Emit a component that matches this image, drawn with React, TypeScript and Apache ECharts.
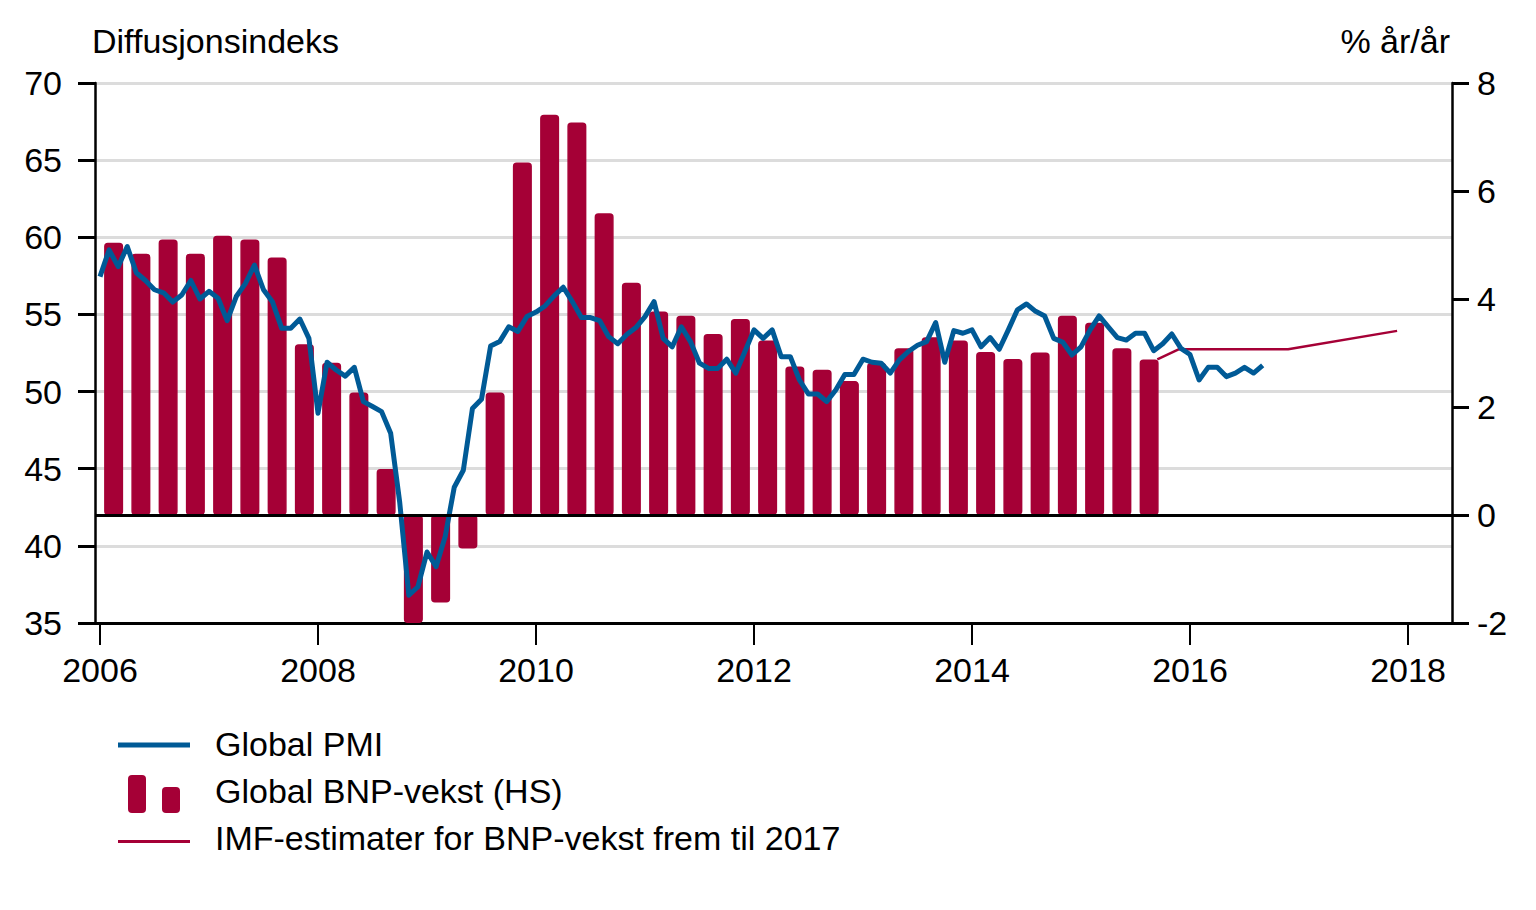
import React, { useEffect, useRef } from "react";
import * as echarts from "echarts";

// ---- Data ----
const pmiStartYear = 2006; // monthly, Jan 2006 onwards
const pmiValues = [
  57.45, 59.18, 58.1, 59.4, 57.7, 57.2, 56.6, 56.4, 55.8, 56.26, 57.2, 56.0,
  56.5, 56.05, 54.6, 56.16, 57.0, 58.2, 56.6, 55.8, 54.1, 54.1, 54.7, 53.45,
  48.6, 51.9, 51.4, 51.0, 51.57, 49.35, 49.03, 48.7, 47.3, 42.8, 36.8, 37.35,
  39.6, 38.65, 40.6, 43.8, 44.9, 48.9, 49.5, 52.95, 53.24, 54.2, 53.9, 54.86,
  55.15, 55.55, 56.2, 56.76, 55.83, 54.8, 54.8, 54.6, 53.56, 53.1, 53.7, 54.15,
  54.86, 55.83, 53.45, 52.9, 54.2, 53.24, 51.84, 51.5, 51.5, 52.1, 51.2, 52.6,
  54.0, 53.45, 54.0, 52.26, 52.26, 50.75, 49.84, 49.84, 49.35, 50.1, 51.1, 51.1,
  52.1, 51.9, 51.84, 51.2, 52.05, 52.6, 53.0, 53.24, 54.47, 51.9, 53.95, 53.78,
  54.0, 52.9, 53.5, 52.74, 54.0, 55.3, 55.68, 55.2, 54.9, 53.45, 53.2, 52.37,
  52.9, 54.0, 54.9, 54.2, 53.5, 53.34, 53.78, 53.78, 52.65, 53.1, 53.73, 52.8,
  52.4, 50.75, 51.57, 51.57, 50.97, 51.2, 51.57, 51.2, 51.7,
];

const gdpStartYear = 2006; // quarterly, Q1 2006 onwards
const gdpValues = [
  5.04, 4.84, 5.1, 4.84,
  5.17, 5.1, 4.77, 3.16,
  2.82, 2.27, 0.85, -2.0,
  -1.62, -0.62, 2.27, 6.53,
  7.41, 7.27, 5.59, 4.3,
  3.77, 3.69, 3.35, 3.63,
  3.23, 2.75, 2.69, 2.48,
  2.82, 3.09, 3.29, 3.23,
  3.02, 2.89, 3.01, 3.69,
  3.56, 3.09, 2.88,
];

const imfDates = [2015.7, 2015.9, 2016.9, 2017.9];
const imfValues = [2.88, 3.07, 3.07, 3.41];

const xTickYears = [2006, 2008, 2010, 2012, 2014, 2016, 2018];

const leftAxisName = "Diffusjonsindeks";
const rightAxisName = "% år/år";
const legendLabels = [
  "Global PMI",
  "Global BNP-vekst (HS)",
  "IMF-estimater for BNP-vekst frem til 2017",
];

// ---- Styles ----
const BLUE = "#005a96";
const RED = "#a50036";
const GRID = "#dcdcdc";

function hasFont(name: string): boolean {
  try {
    const ctx = document.createElement("canvas").getContext("2d");
    if (!ctx) return false;
    const s = "Diffusjonsindeks 2006 % år/år";
    ctx.font = "40px monospace";
    const a = ctx.measureText(s).width;
    ctx.font = `40px "${name}", monospace`;
    const b = ctx.measureText(s).width;
    return Math.abs(a - b) > 0.5;
  } catch (e) {
    return false;
  }
}

export default function App() {
  const ref = useRef<HTMLDivElement>(null);

  useEffect(() => {
    document.body.style.margin = "0";
    if (!ref.current) return;
    const narrow = hasFont("Liberation Sans Narrow");
    const FONT = narrow ? "'Liberation Sans Narrow', 'Arial Narrow', sans-serif" : "'Liberation Sans', Arial, sans-serif";
    const FS = narrow ? 41 : 34;

    const chart = echarts.init(ref.current, undefined, { renderer: "svg" });

    const pmiData = pmiValues.map((v, i) => [pmiStartYear + i / 12, v]);
    const gdpData = gdpValues.map((v, i) => [gdpStartYear + 0.125 + i * 0.25, v]);
    const imfData = imfDates.map((d, i) => [d, imfValues[i]]);

    const XMIN = 2006 - 5 / 109;
    const XMAX = 2018 + 44 / 109;

    const textStyle = { fontFamily: FONT, fontSize: FS, color: "#000" };

    chart.setOption({
      animation: false,
      grid: { left: 95, right: 84, top: 83, bottom: 287, containLabel: false },
      xAxis: {
        type: "value",
        min: XMIN,
        max: XMAX,
        axisLine: { show: true, onZero: false, lineStyle: { color: "#000", width: 3 } },
        axisTick: {
          show: true,
          length: 22,
          lineStyle: { color: "#000", width: 2 },
          customValues: xTickYears,
        },
        axisLabel: {
          ...textStyle,
          margin: 30,
          customValues: xTickYears,
          formatter: (v: number) => String(Math.round(v)),
        },
        splitLine: { show: false },
      },
      yAxis: [
        {
          type: "value",
          position: "left",
          min: 35,
          max: 70,
          interval: 5,
          name: leftAxisName,
          nameLocation: "end",
          nameGap: 42,
          nameTextStyle: { ...textStyle, align: "left", verticalAlign: "middle", padding: [0, 0, 0, -3] },
          axisLine: { show: true, lineStyle: { color: "#000", width: 2.5 } },
          axisTick: { show: true, length: 17, lineStyle: { color: "#000", width: 3 } },
          axisLabel: { ...textStyle, margin: 33 },
          splitLine: { show: true, lineStyle: { color: GRID, width: 3 } },
        },
        {
          type: "value",
          position: "right",
          min: -2,
          max: 8,
          interval: 2,
          name: rightAxisName,
          nameLocation: "end",
          nameGap: 42,
          nameTextStyle: { ...textStyle, align: "right", verticalAlign: "middle", padding: [0, 2, 0, 0] },
          axisLine: { show: true, lineStyle: { color: "#000", width: 2.5 } },
          axisTick: { show: true, length: 17, lineStyle: { color: "#000", width: 3 } },
          axisLabel: { ...textStyle, margin: 25 },
          splitLine: { show: false },
        },
      ],
      series: [
        {
          type: "line",
          yAxisIndex: 1,
          data: [],
          z: 1,
          silent: true,
          markLine: {
            silent: true,
            symbol: "none",
            label: { show: false },
            lineStyle: { color: "#000", width: 3, type: "solid" },
            data: [{ yAxis: 0 }],
          },
        },
        {
          name: legendLabels[1],
          type: "bar",
          yAxisIndex: 1,
          data: gdpData,
          barWidth: 19,
          z: 2,
          itemStyle: { color: RED, borderColor: RED, borderWidth: 1.5, borderRadius: 3 },
        },
        {
          name: legendLabels[2],
          type: "line",
          yAxisIndex: 1,
          data: imfData,
          showSymbol: false,
          symbol: "none",
          z: 3,
          lineStyle: { color: RED, width: 2.5 },
        },
        {
          name: legendLabels[0],
          type: "line",
          yAxisIndex: 0,
          data: pmiData,
          showSymbol: false,
          symbol: "none",
          z: 4,
          lineStyle: { color: BLUE, width: 5, join: "round" },
        },
      ],
      graphic: [
        { type: "rect", shape: { x: 118, y: 742.5, width: 72, height: 5 }, style: { fill: BLUE } },
        { type: "rect", shape: { x: 128, y: 775, width: 18, height: 38, r: 4 }, style: { fill: RED } },
        { type: "rect", shape: { x: 162, y: 787, width: 18, height: 26, r: 4 }, style: { fill: RED } },
        { type: "rect", shape: { x: 118, y: 840, width: 72, height: 3 }, style: { fill: RED } },
        {
          type: "text",
          x: 215,
          y: 744,
          style: { text: legendLabels[0], fontFamily: FONT, fontSize: FS, fill: "#000", align: "left", verticalAlign: "middle" },
        },
        {
          type: "text",
          x: 215,
          y: 791,
          style: { text: legendLabels[1], fontFamily: FONT, fontSize: FS, fill: "#000", align: "left", verticalAlign: "middle" },
        },
        {
          type: "text",
          x: 215,
          y: 838,
          style: { text: legendLabels[2], fontFamily: FONT, fontSize: FS, fill: "#000", align: "left", verticalAlign: "middle" },
        },
      ],
    });

    return () => chart.dispose();
  }, []);

  return <div ref={ref} style={{ width: 1536, height: 910 }} />;
}
